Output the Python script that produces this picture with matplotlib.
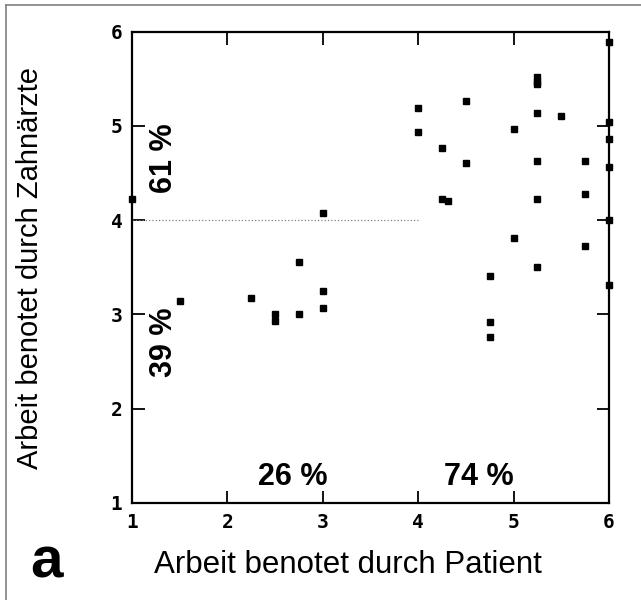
import matplotlib
matplotlib.use("Agg")
import matplotlib.pyplot as plt
from matplotlib.lines import Line2D

# Noten: Patient (x) gegen Zahnaerzte (y)
patient = [1.0, 1.5, 2.25, 2.5, 2.5, 2.75, 2.75, 3.0, 3.0, 3.0,
           4.0, 4.0, 4.25, 4.25, 4.31, 4.5, 4.5,
           4.75, 4.75, 4.75, 5.0, 5.0,
           5.25, 5.25, 5.25, 5.25, 5.25, 5.25, 5.25, 5.5,
           5.75, 5.75, 5.75,
           6.0, 6.0, 6.0, 6.0, 6.0, 6.0]
zahnarzt = [4.22, 3.14, 3.17, 3.0, 2.93, 3.0, 3.56, 4.08, 3.25, 3.07,
            5.19, 4.94, 4.77, 4.22, 4.2, 5.27, 4.61,
            3.41, 2.92, 2.76, 4.97, 3.81,
            5.52, 5.47, 5.14, 4.63, 4.22, 3.5, 5.45, 5.11,
            4.63, 4.28, 3.73,
            5.89, 5.04, 4.86, 4.56, 4.0, 3.31]

ticks = [1, 2, 3, 4, 5, 6]

fig = plt.figure(figsize=(6.41, 6.0), dpi=100)
ax = fig.add_axes([0.206, 0.162, 0.744, 0.785])

ax.plot(patient, zahnarzt, 's', color='black', ms=4.2, clip_on=False)
ax.plot([1, 4], [4, 4], ':', color='0.5', lw=0.9)

ax.set_xlim(1, 6)
ax.set_ylim(1, 6)
ax.set_xticks(ticks)
ax.set_yticks(ticks)
for lab in ax.get_xticklabels() + ax.get_yticklabels():
    lab.set_fontfamily('DejaVu Sans Mono')
    lab.set_fontweight('bold')
ax.tick_params(direction='in', length=9, width=1.3, labelsize=14,
               top=True, right=True, pad=7)
for s in ax.spines.values():
    s.set_linewidth(1.6)

fig.text(0.543, 0.058, 'Arbeit benotet durch Patient', fontsize=22.5,
         family='Liberation Sans', ha='center', va='center')
fig.text(0.047, 0.553, 'Arbeit benotet durch Zahnärzte', fontsize=21,
         family='Liberation Sans', ha='center', va='center', rotation=90)

bold = dict(fontsize=22, fontweight='bold', family='Liberation Sans',
            ha='center', va='center')
ax.text(1.33, 4.66, '61 %', rotation=90, **bold)
ax.text(1.33, 2.70, '39 %', rotation=90, **bold)
ax.text(2.68, 1.27, '26 %', **bold)
ax.text(4.64, 1.27, '74 %', **bold)

fig.text(0.073, 0.037, 'a', fontsize=42, fontweight='bold',
         family='Liberation Sans', ha='center', va='baseline')

# Rahmen links und oben
fig.add_artist(Line2D([0.009, 0.009], [0.0, 0.992], color='0.5', lw=1.2))
fig.add_artist(Line2D([0.009, 1.0], [0.992, 0.992], color='0.5', lw=1.2))

fig.savefig('out.png', dpi=100)
